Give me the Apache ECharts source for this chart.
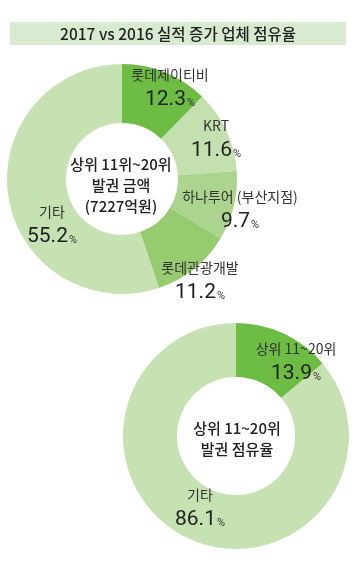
<!DOCTYPE html>
<html><head><meta charset="utf-8">
<script src="https://cdn.jsdelivr.net/npm/echarts@6/dist/echarts.min.js"></script>
<style>html,body{margin:0;padding:0;background:#fff}#c{width:357px;height:578px}</style>
</head><body><div id="c"></div>
<script>
var titleText = '2017 vs 2016 실적 증가 업체 점유율';
var topNames = ['롯데제이티비', 'KRT', '하나투어 (부산지점)', '롯데관광개발', '기타'];
var topValues = [12.3, 11.6, 9.7, 11.2, 55.2];
var topCenterLines = ['상위 11위~20위', '발권 금액', '(7227억원)'];
var bottomNames = ['상위 11~20위', '기타'];
var bottomValues = [13.9, 86.1];
var bottomCenterLines = ['상위 11~20위', '발권 점유율'];

var topColors = ['#6dbd45', '#c3e0ae', '#abd48e', '#97cb70', '#c6e2b2'];
var bottomColors = ['#6dbd45', '#c6e2b2'];
var topLabelPos = [[170, 88], [216, 139], [240, 210], [200, 281], [52, 225]];
var bottomLabelPos = [[296, 362], [200, 508]];

var FONT = '"Noto Sans CJK KR", "Noto Sans", sans-serif';
var NUMFONT = 'Roboto, "Noto Sans", sans-serif';

function mkData(names, values, colors) {
  return names.map(function (n, i) {
    return { name: n, value: values[i], itemStyle: { color: colors[i] } };
  });
}
var rich = {
  n: { fontSize: 14, color: '#333', fontFamily: FONT, lineHeight: 24, align: 'center' },
  v: { fontSize: 21, color: '#222', fontFamily: NUMFONT, lineHeight: 26 },
  p: { fontSize: 11, color: '#333', fontFamily: NUMFONT, lineHeight: 12, verticalAlign: 'middle', padding: [7, 0, 0, 1] }
};
function mkSeries(data, center, radius, pos) {
  return {
    type: 'pie', silent: true, center: center, radius: radius,
    startAngle: 90, clockwise: true, data: data,
    itemStyle: { borderWidth: 0 },
    label: { show: true, position: 'inside', formatter: '{n|{b}}\n{v|{c}}{p|%}', rich: rich },
    labelLine: { show: false },
    labelLayout: function (p) {
      var q = pos[p.dataIndex];
      return { x: q[0], y: q[1], align: 'center', verticalAlign: 'middle' };
    },
    emphasis: { disabled: true }
  };
}
var chart = echarts.init(document.getElementById('c'), null, { renderer: 'canvas' });
chart.setOption({
  animation: false,
  graphic: [
    { type: 'rect', shape: { x: 10, y: 22, width: 336, height: 23 }, style: { fill: '#d8ebd0' } },
    { type: 'text', x: 178, y: 34, style: { text: titleText, font: '500 15.5px ' + FONT, fill: '#222', textAlign: 'center', textVerticalAlign: 'middle' } },
    { type: 'text', x: 121, y: 185, z: 10, style: { text: topCenterLines.join('\n'), font: '500 15px ' + FONT, lineHeight: 21, fill: '#222', textAlign: 'center', textVerticalAlign: 'middle' } },
    { type: 'text', x: 237, y: 439, z: 10, style: { text: bottomCenterLines.join('\n'), font: '500 15px ' + FONT, lineHeight: 21, fill: '#222', textAlign: 'center', textVerticalAlign: 'middle' } }
  ],
  series: [
    mkSeries(mkData(topNames, topValues, topColors), [122, 179], [56, 115], topLabelPos),
    mkSeries(mkData(bottomNames, bottomValues, bottomColors), [236, 436], [59, 113], bottomLabelPos)
  ]
});
</script></body></html>
